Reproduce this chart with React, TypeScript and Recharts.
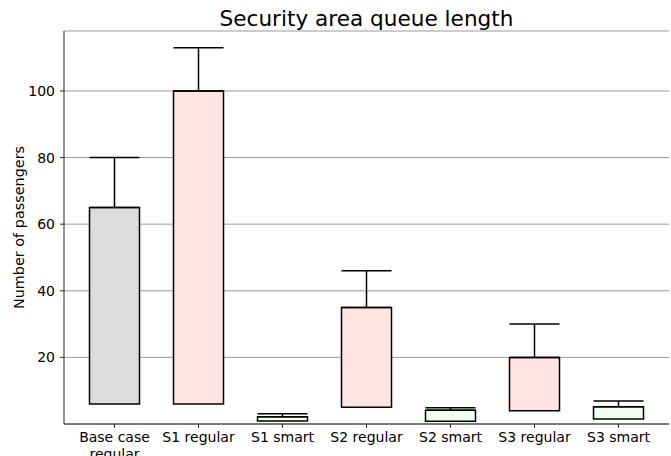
import { ComposedChart, Bar, Cell, ErrorBar, XAxis, YAxis, CartesianGrid } from 'recharts'

// queue length summary per scenario: box from q1 to q3, whisker up to max
const scenarios = ['Base case\nregular', 'S1 regular', 'S1 smart', 'S2 regular', 'S2 smart', 'S3 regular', 'S3 smart']
const q1Values = [6, 6, 0.9, 5, 0.8, 4, 1.5]
const q3Values = [65, 100, 2.2, 35, 4.1, 20, 5.2]
const maxValues = [80, 113, 3.1, 46, 4.9, 30, 6.9]
const boxColors = ['#dcdcdc', '#ffe4e1', '#f0fff0', '#ffe4e1', '#f0fff0', '#ffe4e1', '#f0fff0']
const yTicks = [20, 40, 60, 80, 100]

const FONT = '"DejaVu Sans", sans-serif'
const AXIS = '#262626'

const chartData = scenarios.map((name, i) => ({
  name,
  box: [q1Values[i], q3Values[i]],
  whisker: [0, maxValues[i] - q3Values[i]],
}))

function ScenarioTick({ x, y, payload }: any) {
  const lines = String(payload.value).split('\n')
  return (
    <text x={x} y={y} textAnchor="middle" fontSize={14} fontFamily={FONT} fill="#000">
      {lines.map((line, i) => (
        <tspan key={i} x={x} dy={i === 0 ? '0.71em' : '1.2em'}>
          {line}
        </tspan>
      ))}
    </text>
  )
}

export default function App() {
  return (
    <div style={{ position: 'absolute', left: 0, top: 0, width: 671, height: 456, background: '#fff' }}>
      <div
        style={{
          position: 'absolute',
          left: 64,
          width: 605,
          top: 8,
          textAlign: 'center',
          fontFamily: FONT,
          fontSize: 21.6,
          lineHeight: 1,
          color: '#000',
        }}
      >
        Security area queue length
      </div>
      <ComposedChart width={671} height={456} data={chartData} margin={{ top: 31, right: 2, bottom: 0, left: 0 }}>
        <CartesianGrid vertical={false} stroke="#9a9a9a" strokeWidth={1} />
        <XAxis
          dataKey="name"
          interval={0}
          height={32}
          padding={{ left: 8.5, right: 8.5 }}
          stroke={AXIS}
          tickSize={4}
          tickMargin={4}
          tick={<ScenarioTick />}
        />
        <XAxis xAxisId="top" dataKey="name" orientation="top" height={0} tick={false} tickLine={false} stroke={AXIS} />
        <YAxis
          domain={[0, 118]}
          ticks={yTicks}
          width={64}
          stroke={AXIS}
          tickSize={4}
          tickMargin={5}
          tick={{ fontSize: 14, fontFamily: FONT, fill: '#000' }}
          label={{
            content: () => (
              <text
                transform="translate(19,227.5) rotate(-90)"
                textAnchor="middle"
                dominantBaseline="central"
                fontSize={14.4}
                fontFamily={FONT}
                fill="#000"
              >
                Number of passengers
              </text>
            ),
          }}
        />
        <YAxis yAxisId="right" orientation="right" width={0} tick={false} tickLine={false} stroke={AXIS} />
        <Bar dataKey="box" barSize={50} stroke="#000" strokeWidth={1.5} isAnimationActive={false}>
          {chartData.map((entry, index) => (
            <Cell key={`box-${index}`} fill={boxColors[index]} />
          ))}
          <ErrorBar dataKey="whisker" direction="y" width={25} stroke="#000" strokeWidth={1.5} isAnimationActive={false} />
        </Bar>
      </ComposedChart>
    </div>
  )
}
